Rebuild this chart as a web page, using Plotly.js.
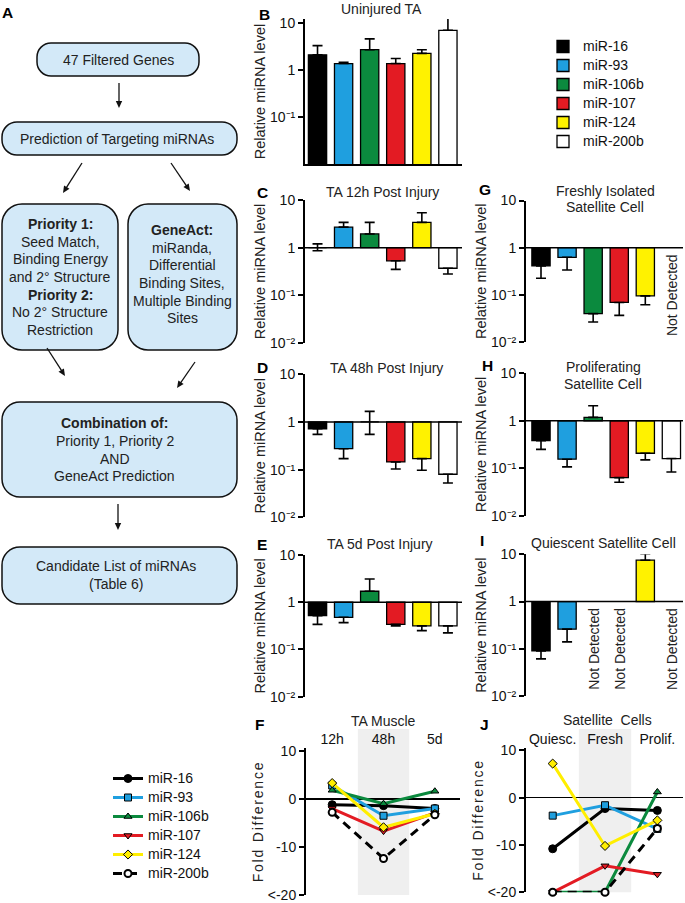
<!DOCTYPE html>
<html><head><meta charset="utf-8">
<script src="https://cdn.plot.ly/plotly-3.0.1.min.js"></script>
<style>body{margin:0;background:#fff}#chart{width:685px;height:903px}</style>
</head><body><div id="chart"></div>
<script>
// ---------- data ----------
const mirs = ['miR-16','miR-93','miR-106b','miR-107','miR-124','miR-200b'];
const barColors = ['#000000','#1f9fdf','#0b8a3e','#e31b23','#fff200','#ffffff'];
const lineColors = ['#000000','#1f9fdf','#0b8a3e','#e31b23','#ffee00','#000000'];
const symbols = ['circle','square','triangle-up','triangle-down','diamond','circle'];

// B Uninjured TA
const valsB  = [2.1, 1.37, 2.7, 1.37, 2.26, 7.0];
const hiB    = [3.3, 1.45, 4.6, 1.76, 2.7, 12.6];
const loB    = [null,null,null,null,null,null];
// C TA 12h
const valsC  = [1.0, 2.7, 1.94, 0.53, 3.4, 0.37];
const hiC    = [1.2, 3.4, 3.4, null, 5.4, null];
const loC    = [0.86, null, null, 0.35, null, 0.28];
// D TA 48h
const valsD  = [0.72, 0.275, 1.0, 0.145, 0.17, 0.08];
const hiD    = [null, null, 1.67, null, null, null];
const loD    = [0.55, 0.17, 0.55, 0.103, 0.097, 0.0525];
// E TA 5d
const valsE  = [0.52, 0.48, 1.71, 0.34, 0.316, 0.316];
const hiE    = [null, null, 3.1, null, null, null];
const loE    = [0.34, 0.37, null, 0.316, 0.25, 0.225];
// G Freshly isolated SC
const valsG  = [0.41, 0.625, 0.04, 0.069, 0.095, null];
const hiG    = [null, null, null, null, null, null];
const loG    = [0.225, 0.337, 0.0265, 0.0366, 0.0615, null];
// H Proliferating SC
const valsH  = [0.38, 0.155, 1.18, 0.0635, 0.207, 0.16];
const hiH    = [null, null, 2.07, null, null, null];
const loH    = [0.25, 0.107, null, 0.0506, 0.15, 0.083];
// I Quiescent SC
const valsI  = [0.09, 0.26, null, null, 7.5, null];
const hiI    = [null, null, null, null, 10.3, null];
const loI    = [0.061, 0.14, null, null, null, null];

// F TA muscle fold difference
const timesF = ['12h','48h','5d'];
const foldF = {
  'miR-16':   [-1.2, -1.4, -2.0],
  'miR-93':   [2.8, -3.5, -2.0],
  'miR-106b': [1.8, -1.0, 1.6],
  'miR-107':  [-2.0, -6.7, -2.9],
  'miR-124':  [3.3, -5.9, -3.1],
  'miR-200b': [-2.8, -12.4, -3.3]
};
// J satellite cells fold difference (<-20 plotted at -20)
const stagesJ = ['Quiesc.','Fresh','Prolif.'];
const foldJ = {
  'miR-16':   [-10.8, -2.3, -2.7],
  'miR-93':   [-3.8, -1.6, -6.6],
  'miR-106b': [-20, -20, 1.2],
  'miR-107':  [-20, -14.4, -16.2],
  'miR-124':  [7.2, -10.2, -4.8],
  'miR-200b': [-20, -20, -6.5]
};
const logTickVals = [0.01, 0.1, 1, 10];
const logTickText = ['10\u207B\u00B2','10\u207B\u00B9','1','10'];
const foldTickVals = [10, 0, -10, -20];
const foldTickText = ['10','0','-10','&lt;-20'];

// ---------- helpers ----------
const W = 685, H = 903;
const px = x => x / W, py = y => 1 - y / H;
const FONT = 'Liberation Sans, Arial, Helvetica, sans-serif';

const traces = [];
function barPanel(vals, hi, lo, n, fromBase, legend) {
  mirs.forEach((m, i) => {
    const v = vals[i];
    if (v == null) return;
    const up = hi[i] != null ? hi[i] - v : 0;
    const dn = lo[i] != null ? v - lo[i] : 0;
    const t = {
      type: 'bar', x: [m], y: [fromBase ? v - 1 : v],
      xaxis: 'x' + (n === 1 ? '' : n), yaxis: 'y' + (n === 1 ? '' : n),
      width: 0.7, name: '<span style="font-size:14px">' + m + '</span>',
      legendgroup: m, showlegend: !!legend, legend: 'legend',
      marker: {color: barColors[i], line: {color: '#000', width: 1.3}},
      error_y: {type: 'data', symmetric: false, array: [up], arrayminus: [dn],
                color: '#000', thickness: 1.6, width: 5},
      hoverinfo: 'skip'
    };
    if (fromBase) t.base = [1];
    traces.push(t);
  });
}
barPanel(valsB, hiB, loB, 1, false, true);
barPanel(valsC, hiC, loC, 2, true, false);
barPanel(valsD, hiD, loD, 3, true, false);
barPanel(valsE, hiE, loE, 4, true, false);
barPanel(valsG, hiG, loG, 5, true, false);
barPanel(valsH, hiH, loH, 6, true, false);
barPanel(valsI, hiI, loI, 7, true, false);

function linePanel(xs, data, n, legend) {
  mirs.forEach((m, i) => {
    traces.push({
      type: 'scatter', mode: 'lines+markers', x: xs, y: data[m],
      xaxis: 'x' + n, yaxis: 'y' + n, cliponaxis: false,
      name: '<span style="font-size:14px">' + m + '</span>',
      legendgroup: 'L' + m, showlegend: !!legend, legend: 'legend2',
      line: {color: lineColors[i], width: 3, dash: m === 'miR-200b' ? '9px,6px' : 'solid'},
      marker: {symbol: symbols[i], size: m === 'miR-16' ? 8 : 7,
               color: m === 'miR-200b' ? '#ffffff' : lineColors[i],
               line: {color: '#000', width: m === 'miR-200b' ? 2 : 1}},
      hoverinfo: 'skip'
    });
  });
}
linePanel(timesF, foldF, 8, true);
linePanel(stagesJ, foldJ, 9, false);

// ---------- axes ----------
const layout = {
  width: W, height: H, margin: {l: 0, r: 0, t: 0, b: 0},
  paper_bgcolor: '#fff', plot_bgcolor: 'rgba(0,0,0,0)',
  font: {family: FONT, size: 14, color: '#111'},
  barmode: 'overlay', showlegend: true,
  legend: {x: px(543), y: py(32), xanchor: 'left', yanchor: 'top',
           font: {size: 12, family: FONT}, bgcolor: 'rgba(0,0,0,0)', tracegroupgap: 0},
  legend2: {x: px(108), y: py(764), xanchor: 'left', yanchor: 'top',
           font: {size: 12, family: FONT}, bgcolor: 'rgba(0,0,0,0)', tracegroupgap: 0},
  shapes: [], annotations: []
};

const leftX = [px(305), px(462)], rightX = [px(526), px(683)];
const leftRange = [-0.48, 5.54], rightRange = [-0.575, 5.445];
const barPanels = [
  // n, xdom, yTopPx, yBotPx, xrange
  [1, leftX, 19, 164, leftRange],
  [2, leftX, 200, 343, leftRange],
  [3, leftX, 374.3, 517.3, leftRange],
  [4, leftX, 555, 696.7, leftRange],
  [5, rightX, 200.5, 342, rightRange],
  [6, rightX, 373.3, 515.7, rightRange],
  [7, rightX, 554.3, 696, rightRange]
];
barPanels.forEach(([n, xd, yt, yb, xr]) => {
  const s = n === 1 ? '' : n;
  layout['xaxis' + s] = {
    domain: xd, anchor: 'y' + s, type: 'category', categoryorder: 'array', categoryarray: mirs,
    range: xr, showticklabels: false, ticks: '', showgrid: false, zeroline: false,
    showline: n === 1, linewidth: 2, linecolor: '#000', fixedrange: true
  };
  layout['yaxis' + s] = {
    domain: [py(yb), py(yt)], anchor: 'x' + s, type: 'log',
    range: n === 1 ? [-2, 1.085] : [-2, 1],
    tickvals: n === 1 ? logTickVals.slice(1) : logTickVals,
    ticktext: n === 1 ? logTickText.slice(1) : logTickText,
    ticks: 'outside', ticklen: 5, tickwidth: 2, tickcolor: '#000',
    showline: true, linewidth: 2, linecolor: '#000', showgrid: false, zeroline: false,
    tickfont: {size: 14, color: '#111'},
    title: {text: 'Relative miRNA level', font: {size: 14.5, color: '#222'}, standoff: 1},
    fixedrange: true
  };
  if (n !== 1) {
    layout.shapes.push({type: 'line', xref: 'x' + s + ' domain', yref: 'y' + s,
      x0: 0, x1: 1, y0: 1, y1: 1, line: {color: '#000', width: 1.5}});
  }
});

const linePanels = [
  [8, [px(306), px(460)], 748, 895],
  [9, [px(526), px(683)], 747.5, 892.3]
];
linePanels.forEach(([n, xd, yt, yb]) => {
  layout['xaxis' + n] = {
    domain: xd, anchor: 'y' + n, type: 'category', side: 'top',
    range: [-0.51, 2.49], ticks: '', showline: false, showgrid: false, zeroline: false,
    tickfont: {size: 14, color: '#111'}, fixedrange: true
  };
  layout['yaxis' + n] = {
    domain: [py(yb), py(yt)], anchor: 'x' + n, range: [-20, 10.6],
    tickvals: foldTickVals, ticktext: foldTickText,
    ticks: 'outside', ticklen: 5, tickwidth: 2, tickcolor: '#000',
    showline: true, linewidth: 2, linecolor: '#000', showgrid: false,
    zeroline: true, zerolinecolor: '#000', zerolinewidth: 1.5,
    tickfont: {size: 14, color: '#111'},
    title: {text: '<span style="letter-spacing:1.8px">Fold Difference</span>', font: {size: 14, color: '#222'}, standoff: 1},
    fixedrange: true
  };
  layout.shapes.push({type: 'rect', xref: 'x' + n, yref: 'paper', x0: 0.5, x1: 1.5,
    y0: py(yb), y1: py(729), fillcolor: '#efefef', line: {width: 0}, layer: 'below'});
});

// ---------- annotations ----------
function txt(x, y, text, opts) {
  layout.annotations.push(Object.assign({xref: 'paper', yref: 'paper', x: px(x), y: py(y),
    text: text, showarrow: false, xanchor: 'center', yanchor: 'middle',
    font: {family: FONT, size: 14, color: '#222'}}, opts || {}));
}
// panel letters
[['A',8,13],['B',264,14],['C',262,192],['D',262,368],['E',262,544],['F',259,724],
 ['G',485,189],['H',487,365],['I',482,540],['J',484,724]].forEach(([l,x,y]) =>
  txt(x, y, '<b>' + l + '</b>', {font: {family: FONT, size: 15.5, color: '#000'}}));
// panel titles
txt(381, 9, 'Uninjured TA');
txt(382, 192, 'TA 12h Post Injury');
txt(386, 368, 'TA 48h Post Injury');
txt(380, 544, 'TA 5d Post Injury');
txt(605, 191, 'Freshly Isolated');
txt(605, 207, 'Satellite Cell');
txt(603, 367, 'Proliferating');
txt(603, 384, 'Satellite Cell');
txt(603, 543, 'Quiescent Satellite Cell');
txt(383, 721, 'TA Muscle');
txt(607, 720, 'Satellite&nbsp;&nbsp;Cells');
// Not detected labels
function nd(n, m) {
  layout.annotations.push({xref: 'x' + n, yref: 'y' + n, x: m, y: 0, yanchor: 'top', xanchor: 'center',
    yshift: -4, textangle: -90, text: 'Not Detected', showarrow: false,
    font: {family: FONT, size: 14, color: '#222'}});
}
nd(5, 'miR-200b');
nd(7, 'miR-106b'); nd(7, 'miR-107'); nd(7, 'miR-200b');

// ---------- flowchart (panel A) ----------
const P = (x, y) => px(x).toFixed(5) + ',' + py(y).toFixed(5);
function rrect(x0, y0, x1, y1, r) {
  const k = 0.5523 * r;
  return 'M' + P(x0 + r, y0) + ' L' + P(x1 - r, y0) +
    ' C' + P(x1 - r + k, y0) + ' ' + P(x1, y0 + r - k) + ' ' + P(x1, y0 + r) +
    ' L' + P(x1, y1 - r) +
    ' C' + P(x1, y1 - r + k) + ' ' + P(x1 - r + k, y1) + ' ' + P(x1 - r, y1) +
    ' L' + P(x0 + r, y1) +
    ' C' + P(x0 + r - k, y1) + ' ' + P(x0, y1 - r + k) + ' ' + P(x0, y1 - r) +
    ' L' + P(x0, y0 + r) +
    ' C' + P(x0, y0 + r - k) + ' ' + P(x0 + r - k, y0) + ' ' + P(x0 + r, y0) + ' Z';
}
[[37, 43, 199, 76, 14], [2, 122, 237, 155, 15], [2, 204, 118, 350, 20],
 [128, 204, 237, 350, 20], [2, 402, 237, 497, 18], [2, 547, 237, 604, 18]].forEach(b => {
  layout.shapes.push({type: 'path', xref: 'paper', yref: 'paper', path: rrect(...b),
    fillcolor: '#d3e9f8', line: {color: '#111', width: 1.5}, layer: 'below'});
});
txt(118, 60, '47 Filtered Genes');
txt(117, 139, 'Prediction of Targeting miRNAs');
['<b>Priority 1:</b>','Seed Match,','Binding Energy','and 2° Structure','<b>Priority 2:</b>','No 2° Structure','Restriction']
  .forEach((s, i) => txt(60, 224 + i * 17.67, s));
['<b>GeneAct:</b>','miRanda,','Differential','Binding Sites,','Multiple Binding','Sites']
  .forEach((s, i) => txt(182, 230 + i * 17.67, s));
['<b>Combination of:</b>','Priority 1, Priority 2','AND','GeneAct Prediction']
  .forEach((s, i) => txt(115, 423.5 + i * 17.6, s));
txt(116, 566, 'Candidate List of miRNAs');
txt(116, 583.5, '(Table 6)');
function arrow(tx, ty, hx, hy) {
  const dx = hx - tx, dy = hy - ty, L = Math.hypot(dx, dy);
  const ux = dx / L, uy = dy / L, hl = 7, hw = 3.2;
  layout.shapes.push({type: 'line', xref: 'paper', yref: 'paper',
    x0: px(tx), y0: py(ty), x1: px(hx - ux * (hl - 1)), y1: py(hy - uy * (hl - 1)),
    line: {color: '#111', width: 1.3}});
  const bx = hx - ux * hl, by = hy - uy * hl;
  layout.shapes.push({type: 'path', xref: 'paper', yref: 'paper',
    path: 'M' + P(hx, hy) + ' L' + P(bx - uy * hw, by + ux * hw) + ' L' + P(bx + uy * hw, by - ux * hw) + ' Z',
    fillcolor: '#111', line: {width: 0}});
}
arrow(119, 83, 119, 108);
arrow(82, 163, 63, 193);
arrow(171, 163, 190, 191);
arrow(47, 348, 65, 376);
arrow(195, 362, 177, 388);
arrow(118, 504, 118, 530);

Plotly.newPlot('chart', traces, layout, {displayModeBar: false, staticPlot: true});
</script>
</body></html>
